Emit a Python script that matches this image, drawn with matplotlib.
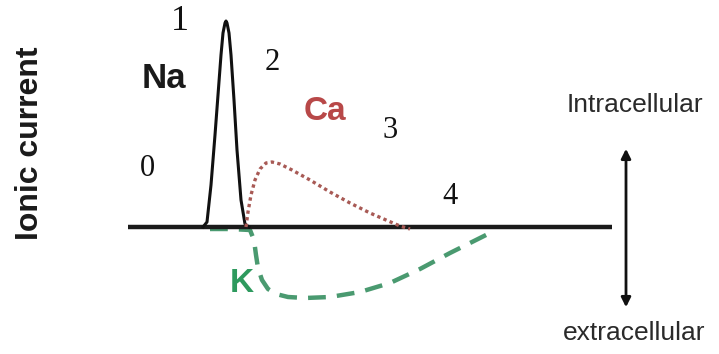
import matplotlib
matplotlib.use("Agg")
import matplotlib.pyplot as plt

# Curves (pixel space, y grows downward)
baseline_x = [128, 612]
baseline_y = [227, 227]

na_x = [203, 207, 211, 215, 218, 221, 223, 225, 226, 227, 229, 231, 234, 237, 241, 245, 249]
na_y = [227, 222, 185, 135, 95, 55, 33, 23, 21, 23, 33, 55, 100, 150, 200, 224, 227]

ca_x = [246, 248, 251, 255, 260, 266, 272, 280, 292, 310, 330, 350, 370, 386, 400, 410]
ca_y = [227, 212, 195, 180, 169, 163, 162, 164, 170, 180, 192, 203, 213, 220, 226, 229]

k_x = [210, 230, 250, 254, 256, 258, 262, 268, 276, 288, 305, 330, 360, 390, 420, 450, 472, 490]
k_y = [229, 229, 230, 240, 255, 268, 280, 289, 294, 297, 298, 297, 292, 283, 269, 253, 242, 233]

numbers = ["0", "1", "2", "3", "4"]
number_x = [147, 180, 272, 390, 450]
number_y = [168, 21, 62, 131, 196]

fig = plt.figure(figsize=(7.19, 3.54), dpi=100)
ax = fig.add_axes([0, 0, 1, 1])
ax.set_xlim(0, 719)
ax.set_ylim(354, 0)
ax.axis("off")

ax.plot(baseline_x, baseline_y, color="#1a1a1a", lw=3.2, solid_capstyle="butt", zorder=3)
ax.plot(na_x, na_y, color="#111111", lw=2.2, zorder=3)
ax.plot(ca_x, ca_y, color="#a85a55", lw=2.4, linestyle=(0, (1, 1)), zorder=4)
ax.plot(k_x, k_y, color="#4a9a70", lw=3.2, linestyle=(0, (4, 2.5)), zorder=2)

for s, x, y in zip(numbers, number_x, number_y):
    size = 26 if s == "1" else 22
    ax.text(x, y, s, fontsize=size, family="Liberation Serif", ha="center", va="center", color="#111111")

ax.text(164, 78, "Na", fontsize=25, family="Liberation Sans", weight="bold",
        ha="center", va="center", color="#1a1a1a")
ax.text(325, 111, "Ca", fontsize=24, family="Liberation Sans", weight="bold",
        ha="center", va="center", color="#b84848")
ax.text(242, 283, "K", fontsize=24, family="Liberation Sans", weight="bold",
        ha="center", va="center", color="#2e9a5e")

ax.text(30, 143, "Ionic current", fontsize=23, family="Liberation Sans", weight="bold",
        rotation=90, ha="center", va="center", color="#1a1a1a")
ax.text(635, 105, "Intracellular", fontsize=19, family="Liberation Sans",
        ha="center", va="center", color="#2a2a2a")
ax.text(634, 333, "extracellular", fontsize=19, family="Liberation Sans",
        ha="center", va="center", color="#2a2a2a")

ax.annotate("", xy=(626, 146), xytext=(626, 310),
            arrowprops=dict(arrowstyle="<|-|>", color="#111111", lw=2, mutation_scale=14))

fig.savefig("out.png", dpi=100)
plt.close(fig)
